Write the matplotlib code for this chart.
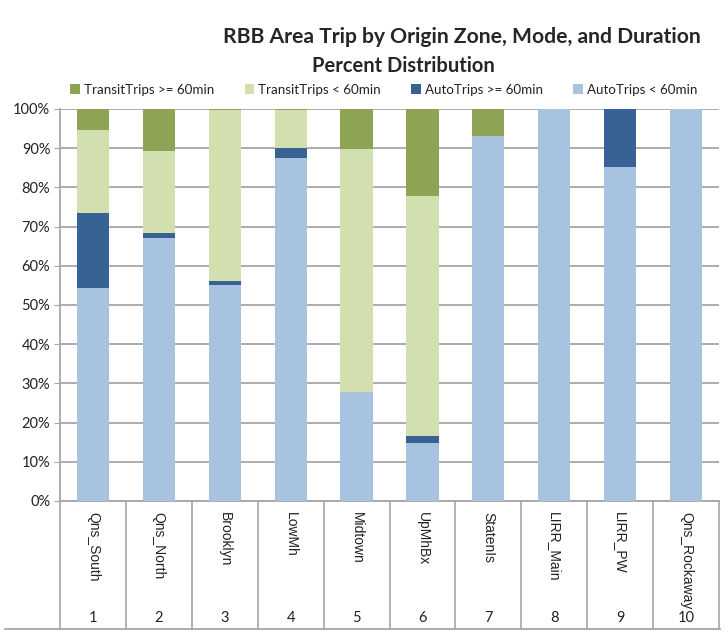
import matplotlib
matplotlib.use("Agg")
import matplotlib.pyplot as plt
import numpy as np
from matplotlib.ticker import PercentFormatter

zones = ["Qns_South", "Qns_North", "Brooklyn", "LowMh", "Midtown",
         "UpMhBx", "StatenIs", "LIRR_Main", "LIRR_PW", "Qns_Rockaway"]
zone_ids = ["1", "2", "3", "4", "5", "6", "7", "8", "9", "10"]

# percent shares, bottom to top of each stack
auto_lt60 = [54.4, 67.0, 55.2, 87.5, 27.9, 14.9, 93.0, 100.0, 85.3, 100.0]
auto_ge60 = [19.0, 1.4, 1.0, 2.5, 0.0, 1.7, 0.0, 0.0, 14.7, 0.0]
transit_lt60 = [21.3, 20.9, 43.5, 9.8, 61.9, 61.2, 0.0, 0.0, 0.0, 0.0]
transit_ge60 = [5.3, 10.7, 0.3, 0.2, 10.2, 22.2, 7.0, 0.0, 0.0, 0.0]

series_names = ["AutoTrips < 60min", "AutoTrips >= 60min",
                "TransitTrips < 60min", "TransitTrips >= 60min"]
colors = ["#a7c3e0", "#376293", "#d2e0af", "#8da455"]

fig = plt.figure(figsize=(7.28, 6.32), dpi=100)
ax = fig.add_axes([60 / 728, 1 - 501 / 632, 659 / 728, 392 / 632])

x = np.arange(len(zones))
bottom = np.zeros(len(zones))
bars = []
for vals, name, c in zip([auto_lt60, auto_ge60, transit_lt60, transit_ge60],
                         series_names, colors):
    b = ax.bar(x, vals, 0.49, bottom=bottom, color=c, label=name, zorder=3)
    bars.append(b)
    bottom += np.array(vals)

ax.set_xlim(-0.5, len(zones) - 0.5)
ax.set_ylim(0, 100)
ax.set_yticks(np.arange(0, 101, 10))
ax.yaxis.set_major_formatter(PercentFormatter(decimals=0))
ax.grid(axis="y", color="#a6a6a6", linewidth=1.3, zorder=0)
for s in ["top", "right", "bottom"]:
    ax.spines[s].set_visible(False)
ax.spines["left"].set_color("#a6a6a6")
ax.spines["left"].set_linewidth(1.3)
ax.tick_params(axis="y", length=4, color="#a6a6a6", labelsize=10.5,
               labelcolor="#222222", pad=3)
for lab in ax.get_yticklabels():
    lab.set_family("Lato")
ax.set_xticks([])

# two-level category axis below the plot
grey = "#a6a6a6"
box_bottom = -(629 - 501) / 392
trans = ax.get_xaxis_transform()
for b in np.arange(-0.5, len(zones), 1.0):
    ax.plot([b, b], [0, box_bottom], color=grey, lw=1.2, transform=trans,
            clip_on=False)
ax.plot([-0.5, len(zones) - 0.5], [0, 0], color=grey, lw=1.3,
        transform=trans, clip_on=False)
fig.add_artist(plt.Line2D([5 / 728, 720 / 728], [1 - 629 / 632] * 2,
                          color=grey, lw=1.3))
for xi, name, zid in zip(x, zones, zone_ids):
    ax.text(xi, -(512 - 501) / 392, name, rotation=270, ha="center",
            va="top", fontsize=10, family="Liberation Sans",
            color="#222222", transform=trans)
    ax.text(xi, -(618 - 501) / 392, zid, ha="center", va="center",
            fontsize=10.5, family="Lato", color="#222222", transform=trans)

fig.text(0.634, 0.941, "RBB Area Trip by Origin Zone, Mode, and Duration",
         ha="center", va="center", fontsize=15.2, fontweight="bold",
         family="Lato", color="#262626")
fig.text(0.554, 0.896, "Percent Distribution", ha="center", va="center",
         fontsize=14.5, fontweight="bold", family="Lato", color="#262626")

leg = fig.legend(bars[::-1], series_names[::-1], loc="center",
                 bbox_to_anchor=(0.527, 0.858), ncol=4, frameon=False,
                 handlelength=0.7, handleheight=0.7, handletextpad=0.3,
                 columnspacing=2.3, prop={"family": "Lato", "size": 9.6})
for t in leg.get_texts():
    t.set_color("#222222")

fig.savefig("out.png", dpi=100)
